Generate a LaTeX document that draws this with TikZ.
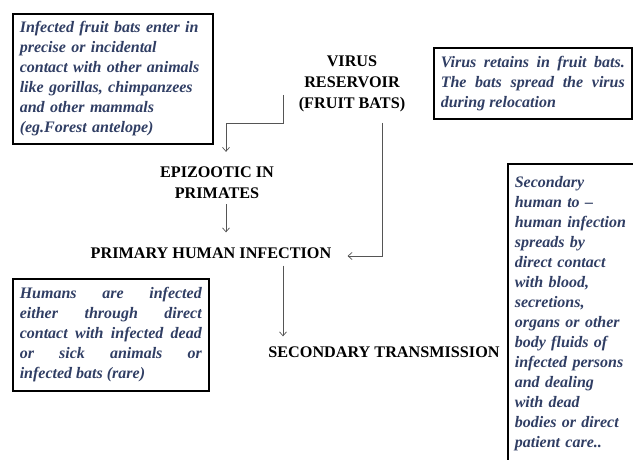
\documentclass[tikz,border=0pt]{standalone}
\usepackage{fontspec}
\setmainfont{Liberation Serif}
\usetikzlibrary{arrows.meta}
\definecolor{notecol}{RGB}{48,62,100}
\definecolor{arrcol}{RGB}{85,85,85}

\begin{document}
\begin{tikzpicture}[x=1pt,y=-1pt,
  head/.style={font=\fontsize{16.2}{21}\selectfont\bfseries,align=center,inner sep=2pt},
  note/.style={draw,line width=1.6pt,anchor=north west,inner xsep=7pt,
    font=\fontsize{16}{20}\selectfont\bfseries\itshape,text=notecol},
  arr/.style={draw=arrcol,line width=0.7pt,-{Straight Barb[length=4pt,width=7pt]}}]
\useasboundingbox (0,0) rectangle (633,460);
\clip (0,0) rectangle (633,460);
% headings
\node[head] (res) at (352,84) {VIRUS\\RESERVOIR\\(FRUIT BATS)};
\node[head] (epi) at (217,183) {EPIZOOTIC IN\\PRIMATES};
\node[head] (prim) at (211,253) {PRIMARY HUMAN INFECTION};
\node[head] (sec) at (384,352) {SECONDARY TRANSMISSION};
% notes
\node[note,text width=186pt,minimum height=130pt,align=left] (n1) at (12,13)
  {Infected fruit bats enter in\\ precise or incidental\\ contact with other animals\\
   like gorillas, chimpanzees\\ and other mammals\\ (eg.Forest antelope)};
\node[note,text width=184pt,minimum height=71pt,align=justify] (n2) at (433,47)
  {Virus retains in fruit bats.\linebreak The bats spread the virus\linebreak during relocation};
\node[note,text width=182pt,minimum height=112pt,align=justify] (n3) at (12,278)
  {Humans are infected\linebreak either through direct\linebreak contact with infected dead\linebreak
   or sick animals or\linebreak infected bats (rare)};
\node[note,text width=124pt,inner ysep=13pt,align=left] (n4) at (507,163)
  {Secondary\\ human to --\\ human infection\\ spreads by\\ direct contact\\ with blood,\\
   secretions,\\ organs or other\\ body fluids of\\ infected persons\\ and dealing\\ with dead\\
   bodies or direct\\ patient care..};
% arrows
\coordinate (c1) at (283,95);
\coordinate (c2) at (382,123);
\draw[arr,shorten >=13pt] (c1) -- ++(0,28) -| ([xshift=9pt]epi.north);
\draw[arr,shorten <=3pt,shorten >=13pt] ([xshift=9pt]epi.south) -- ([xshift=9pt]epi.south |- prim.north);
\draw[arr] (c2) |- ([xshift=14pt,yshift=-3pt]prim.east);
\draw[arr,shorten <=5pt,shorten >=8pt] ([xshift=72pt]prim.south) -- ([xshift=72pt]prim.south |- sec.north);
\end{tikzpicture}
\end{document}
